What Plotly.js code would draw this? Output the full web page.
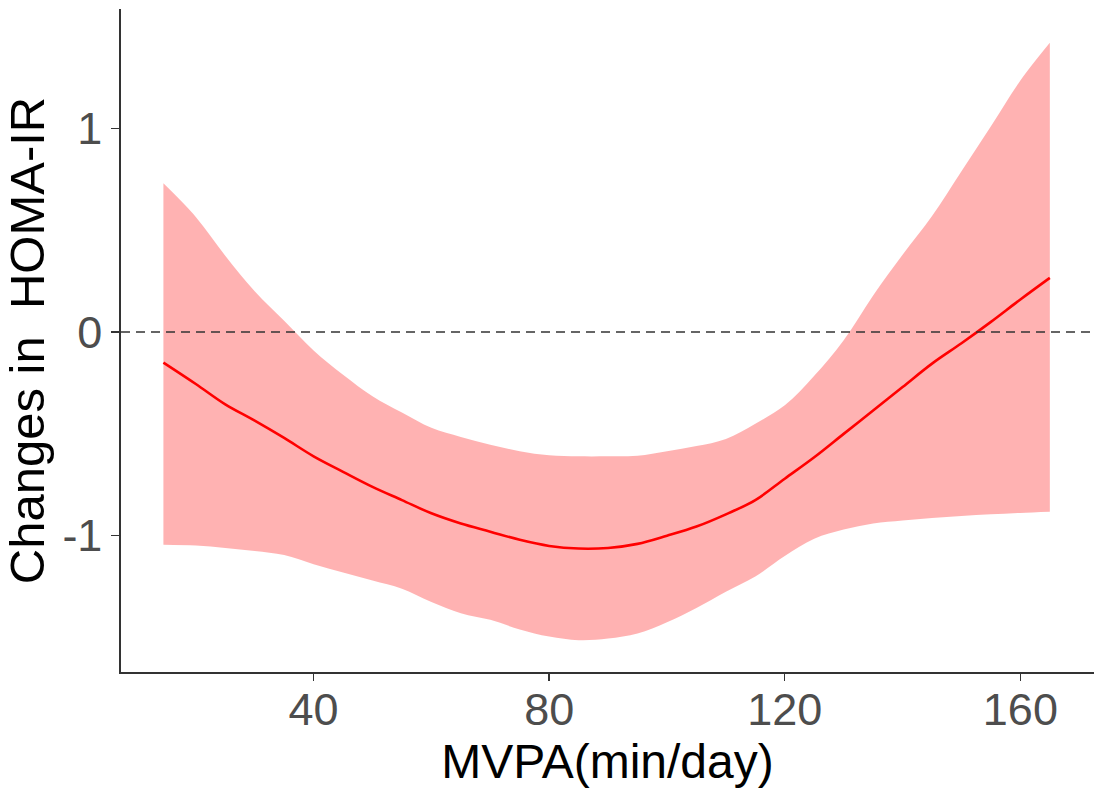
<!DOCTYPE html>
<html>
<head>
<meta charset="utf-8">
<script src="https://cdn.plot.ly/plotly-3.0.1.min.js"></script>
<style>html,body{margin:0;padding:0;background:#fff;}#chart{width:1094px;height:791px;}</style>
</head>
<body>
<div id="chart"></div>
<script>
const mvpa = [14.5, 20, 25, 30, 35, 40, 45, 50, 55, 60, 65, 70, 75, 80, 85, 90, 95, 100, 105, 110, 115, 120, 125, 130, 135, 140, 145, 150, 155, 160, 165];
const fit = [-0.15, -0.255, -0.355, -0.435, -0.52, -0.61, -0.686, -0.76, -0.825, -0.89, -0.94, -0.98, -1.02, -1.05, -1.063, -1.06, -1.04, -1.0, -0.955, -0.895, -0.825, -0.72, -0.615, -0.50, -0.385, -0.27, -0.155, -0.055, 0.05, 0.16, 0.266];
const upper = [0.73, 0.565, 0.375, 0.20, 0.055, -0.09, -0.21, -0.315, -0.395, -0.47, -0.515, -0.553, -0.585, -0.605, -0.61, -0.61, -0.607, -0.585, -0.56, -0.525, -0.45, -0.36, -0.215, -0.04, 0.18, 0.38, 0.57, 0.79, 1.01, 1.235, 1.42];
const lower = [-1.044, -1.048, -1.06, -1.075, -1.095, -1.14, -1.18, -1.22, -1.26, -1.325, -1.38, -1.413, -1.46, -1.495, -1.513, -1.505, -1.48, -1.425, -1.355, -1.275, -1.2, -1.1, -1.015, -0.97, -0.94, -0.925, -0.913, -0.903, -0.895, -0.888, -0.882];
const xTicks = [40, 80, 120, 160];
const yTicks = [-1, 0, 1];
const xTitle = 'MVPA(min/day)';
const yTitle = 'Changes in  HOMA-IR';

const traces = [
  {x: mvpa, y: lower, type: 'scatter', mode: 'lines', line: {width: 0, color: 'rgba(0,0,0,0)', shape: 'spline', smoothing: 1}, hoverinfo: 'skip', showlegend: false},
  {x: mvpa, y: upper, type: 'scatter', mode: 'lines', fill: 'tonexty', fillcolor: 'rgba(255,0,0,0.3)', line: {width: 0, color: 'rgba(0,0,0,0)', shape: 'spline', smoothing: 1}, hoverinfo: 'skip', showlegend: false},
  {x: mvpa, y: fit, type: 'scatter', mode: 'lines', line: {color: '#FF0000', width: 2.6, shape: 'spline', smoothing: 1}, showlegend: false}
];

const layout = {
  width: 1094, height: 791,
  margin: {l: 121, r: 0, t: 9, b: 119},
  paper_bgcolor: '#ffffff', plot_bgcolor: '#ffffff',
  font: {family: '"Liberation Sans", Arial, sans-serif'},
  showlegend: false,
  xaxis: {
    range: [7.3, 172.5], tickvals: xTicks, ticktext: xTicks.map(String),
    showgrid: false, zeroline: false, showline: true, linecolor: '#333333', linewidth: 1.6,
    ticks: 'outside', ticklen: 7, tickwidth: 1.4, tickcolor: '#333333',
    tickfont: {size: 45, color: '#4D4D4D'}, ticklabelstandoff: -10,
    title: {text: xTitle, font: {size: 48, color: '#000000'}, standoff: 4},
    automargin: false
  },
  yaxis: {
    range: [-1.669, 1.586], tickvals: yTicks, ticktext: ['-1', '0', '1'],
    showgrid: false, zeroline: false, showline: true, linecolor: '#333333', linewidth: 1.6,
    ticks: 'outside', ticklen: 8, tickwidth: 1.4, tickcolor: '#333333',
    tickfont: {size: 45, color: '#4D4D4D'},
    title: {text: yTitle, font: {size: 49, color: '#000000'}, standoff: 2},
    automargin: false
  },
  shapes: [
    {type: 'line', xref: 'paper', x0: 0, x1: 1, yref: 'y', y0: 0, y1: 0,
     line: {color: '#333333', width: 1.5, dash: '9px,6px'}}
  ]
};

Plotly.newPlot('chart', traces, layout, {displayModeBar: false, staticPlot: true});
</script>
</body>
</html>
